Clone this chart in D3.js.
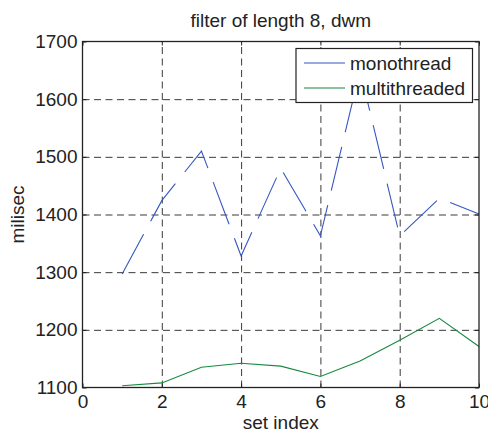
<!DOCTYPE html>
<html>
<head>
<meta charset="utf-8">
<script src="https://cdn.jsdelivr.net/npm/d3@7"></script>
<style>
  body { margin: 0; background: #fff; }
  svg { display: block; font-family: "Liberation Sans", Arial, sans-serif; }
</style>
</head>
<body>
<svg id="chart" width="488" height="432"></svg>
<script>
const setIndex = [1, 2, 3, 4, 5, 6, 7, 8, 9, 10];
const monothread = [1297, 1424, 1510, 1328, 1480, 1363, 1650, 1363, 1428, 1401];
const multithreaded = [1103, 1108, 1135, 1142, 1137, 1119, 1146, 1182, 1220, 1171];
const xTicks = [0, 2, 4, 6, 8, 10];
const yTicks = [1100, 1200, 1300, 1400, 1500, 1600, 1700];
const seriesNames = ["monothread", "multithreaded"];
const seriesColors = ["#3557c0", "#168a3e"];

const W = 488, H = 432;
const m = { left: 82.5, top: 41.5, right: 9, bottom: 44.5 };
const iw = W - m.left - m.right, ih = H - m.top - m.bottom;

const svg = d3.select("#chart");
const g = svg.append("g").attr("transform", `translate(${m.left},${m.top})`);

const x = d3.scaleLinear().domain([0, 10]).range([0, iw]);
const y = d3.scaleLinear().domain([1100, 1700]).range([ih, 0]);

// grid
const gridX = g.append("g").attr("transform", `translate(0,${ih})`)
  .call(d3.axisBottom(x).tickValues(xTicks.slice(1, -1)).tickSize(-ih).tickFormat(""));
const gridY = g.append("g")
  .call(d3.axisLeft(y).tickValues(yTicks.slice(1, -1)).tickSize(-iw).tickFormat(""));
[gridX, gridY].forEach(a => {
  a.select(".domain").remove();
  a.selectAll("line").attr("stroke", "#3a3a3a").attr("stroke-width", 1).attr("stroke-dasharray", "7,4.5");
});

// series
const line = d3.line().x((d, i) => x(setIndex[i])).y(d => y(d));
g.append("path").datum(monothread).attr("d", line)
  .attr("fill", "none").attr("stroke", seriesColors[0]).attr("stroke-width", 1.1)
  .attr("stroke-dasharray", "45,15");
g.append("path").datum(multithreaded).attr("d", line)
  .attr("fill", "none").attr("stroke", seriesColors[1]).attr("stroke-width", 1.1);

// axes
const fs = 19;
const xAxis = g.append("g").attr("transform", `translate(0,${ih})`)
  .call(d3.axisBottom(x).tickValues(xTicks).tickSize(-4).tickPadding(7).tickFormat(d3.format("d")));
const yAxis = g.append("g")
  .call(d3.axisLeft(y).tickValues(yTicks).tickSize(-4).tickPadding(5).tickFormat(d3.format("d")));
[xAxis, yAxis].forEach(a => {
  a.select(".domain").remove();
  a.selectAll("line").attr("stroke", "#222");
  a.selectAll("text").attr("fill", "#222").style("font-size", fs + "px")
    .style("font-family", '"Liberation Sans", Arial, sans-serif');
});
// top/right ticks
g.append("g").call(d3.axisTop(x).tickValues(xTicks).tickSize(-4).tickFormat(""))
  .call(a => { a.select(".domain").remove(); a.selectAll("line").attr("stroke", "#222"); });
g.append("g").attr("transform", `translate(${iw},0)`)
  .call(d3.axisRight(y).tickValues(yTicks).tickSize(-4).tickFormat(""))
  .call(a => { a.select(".domain").remove(); a.selectAll("line").attr("stroke", "#222"); });

// box
g.append("rect").attr("width", iw).attr("height", ih)
  .attr("fill", "none").attr("stroke", "#222").attr("stroke-width", 1.3);

// title & labels
svg.append("text").attr("x", m.left + iw / 2).attr("y", 27).attr("text-anchor", "middle")
  .attr("fill", "#222").style("font-size", fs + "px").text("filter of length 8, dwm");
svg.append("text").attr("x", m.left + iw / 2).attr("y", 429).attr("text-anchor", "middle")
  .attr("fill", "#222").style("font-size", fs + "px").text("set index");
svg.append("text").attr("transform", `translate(23.5,${m.top + ih / 2}) rotate(-90)`)
  .attr("text-anchor", "middle").attr("fill", "#222").style("font-size", fs + "px").text("milisec");

// legend
const lg = svg.append("g");
const lgX = 296, lgY = 48.5, lgW = 176.5, lgH = 54;
lg.append("rect").attr("x", lgX).attr("y", lgY).attr("width", lgW).attr("height", lgH)
  .attr("fill", "#fff").attr("stroke", "#222").attr("stroke-width", 1.2);
seriesNames.forEach((name, i) => {
  const yy = lgY + 14.5 + i * 25;
  lg.append("line").attr("x1", lgX + 8).attr("x2", lgX + 49).attr("y1", yy).attr("y2", yy)
    .attr("stroke", seriesColors[i]).attr("stroke-width", 1.1);
  lg.append("text").attr("x", lgX + 54).attr("y", yy).attr("dy", "0.35em")
    .attr("fill", "#222").style("font-size", fs + "px").text(name);
});
</script>
</body>
</html>
